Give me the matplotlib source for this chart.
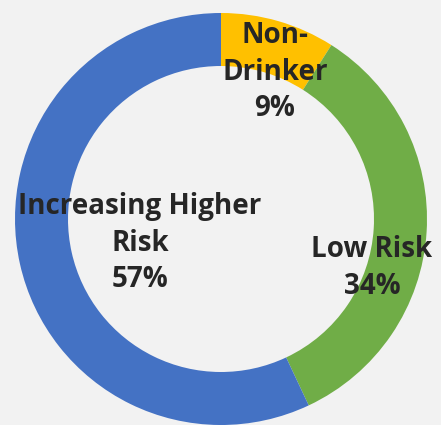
import matplotlib
matplotlib.use("Agg")
import matplotlib.pyplot as plt

categories = ["Non-\nDrinker", "Low Risk", "Increasing Higher\nRisk"]
values = [9, 34, 57]
colors = ["#FFC000", "#70AD47", "#4472C4"]

W, H = 441, 425
fig = plt.figure(figsize=(W / 100, H / 100), dpi=100)
bg = "#F2F2F2"
fig.patch.set_facecolor(bg)
ax = fig.add_axes([0, 0, 1, 1])
ax.set_facecolor(bg)

cx, cy, R = 221, H - 219, 206
ax.pie(values, colors=colors, startangle=90, counterclock=False,
       center=(cx, cy), radius=R, frame=True,
       wedgeprops=dict(width=53, linewidth=0))
ax.set_xlim(0, W)
ax.set_ylim(0, H)
ax.set_aspect("equal")
ax.axis("off")

label_pos = [(275, 72), (372, 268), (140, 243)]
for cat, v, (x, y) in zip(categories, values, label_pos):
    ax.text(x, H - y, f"{cat}\n{v}%", ha="center", va="center",
            fontsize=20, fontweight="bold", color="#262626",
            family="Open Sans", linespacing=1.32)

fig.savefig("out.png", dpi=100, facecolor=bg)
